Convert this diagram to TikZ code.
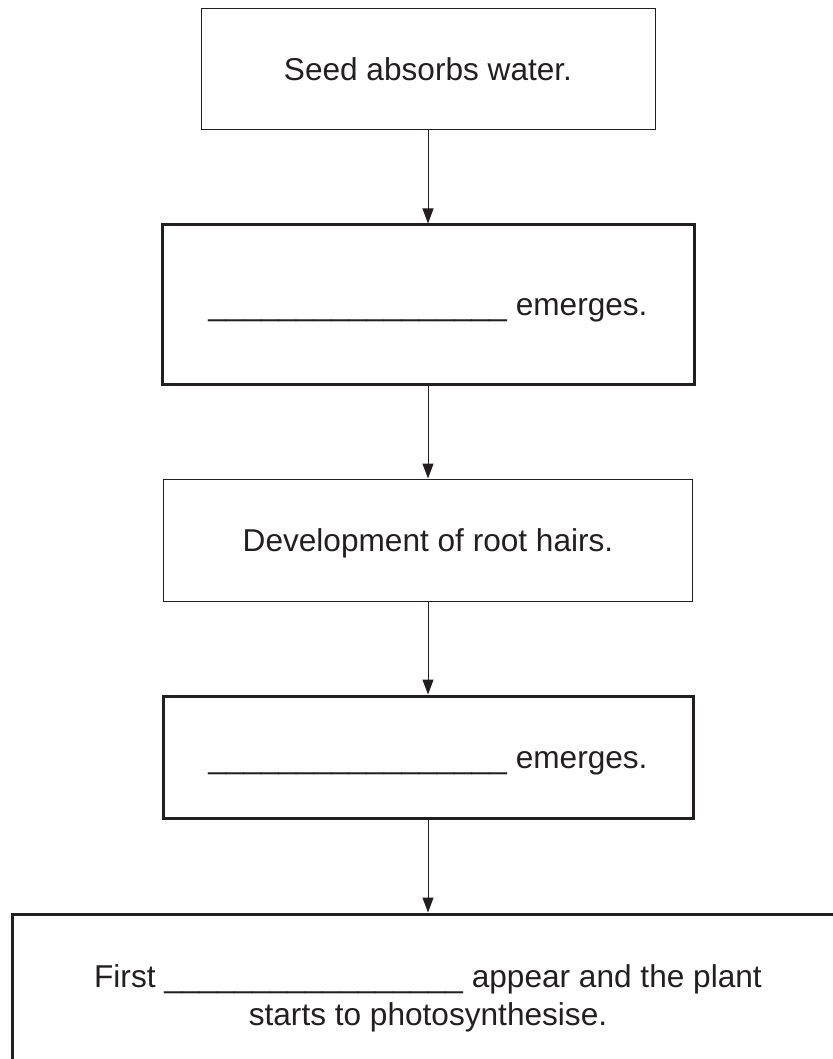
\documentclass[tikz,border=0pt]{standalone}
\usepackage{fontspec}
\setmainfont{Liberation Sans}
\usetikzlibrary{positioning,arrows.meta}
\definecolor{ink}{RGB}{35,31,32}
\newcommand{\answerline}{\_\_\_\_\_\_\_\_\_\_\_\_\_\_\_\_\_}

\begin{document}
\begin{tikzpicture}[x=1pt,y=1pt]

        % Define stage box styles
        \tikzstyle{stage} = [rectangle, draw=ink, text=ink, line width=0.5pt, minimum width=265pt, minimum height=61pt, inner sep=0pt, node distance=46.5pt, font=\fontsize{15.8}{19}\selectfont, text height=11.4pt, text depth=0pt]
        \tikzstyle{blankstage} = [stage, line width=1.5pt]
        \tikzstyle{link} = [draw=ink, line width=0.5pt, -{Triangle[length=7.5pt, width=5.5pt]}]

        % Page area
        \useasboundingbox (0,0) rectangle (416.5,-529.5);

        % Seed stage
        \node[stage, minimum width=227pt, minimum height=60.5pt] (seed) at (214,-34.75) {Seed absorbs water.};

        % First blank stage
        \node[blankstage, below=of seed, minimum width=266pt, minimum height=79.5pt] (radicle) {\answerline{} emerges.};

        % Root hair stage
        \node[stage, below=of radicle, minimum width=264.5pt] (roots) {Development of root hairs.};

        % Second blank stage
        \node[blankstage, below=of roots] (shoot) {\answerline{} emerges.};

        % Leaf stage (runs off the page)
        \node[blankstage, below=of shoot, minimum width=416pt, minimum height=84pt, align=center, text height={}, text depth={}] (leaves) {First \answerline{} appear and the plant\\starts to photosynthesise.};

        % Draw arrows between stages
        \draw[link] (seed) -- (radicle);
        \draw[link] (radicle) -- (roots);
        \draw[link] (roots) -- (shoot);
        \draw[link] (shoot) -- (leaves);

    \end{tikzpicture}
\end{document}
